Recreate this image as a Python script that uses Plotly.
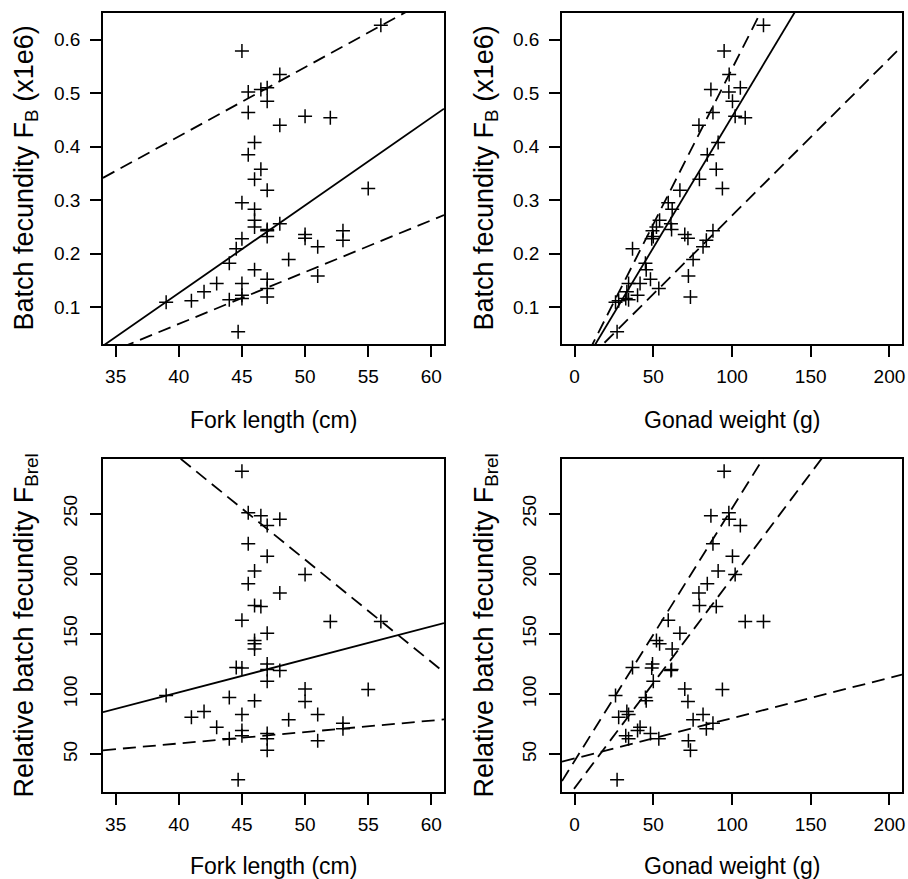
import plotly.graph_objects as go

# ---- data: one row per fish ----
fork_length = [39.0, 41.0, 42.0, 43.0, 44.0, 44.0, 44.55, 45.0, 45.0, 45.0, 45.0, 45.0, 45.0, 44.7,
               45.5, 45.5, 45.5, 46.0, 46.0, 46.0, 46.0, 46.0, 46.0, 46.5, 46.5,
               47.0, 47.0, 47.0, 47.0, 47.0, 47.0, 47.0, 47.0, 47.0,
               48.0, 48.0, 48.0, 48.7, 50.0, 50.0, 50.0, 51.0, 51.0, 52.0, 53.0, 53.0, 55.0, 56.0]
gonad_weight = [26.0, 28.0, 33.2, 41.6, 45.0, 34.3, 36.8, 49.0, 95.0, 59.5, 34.3, 40.0, 32.5, 27.0,
                98.0, 87.9, 84.3, 91.2, 79.3, 62.0, 54.0, 52.0, 45.5, 86.6, 90.0,
                105.3, 100.3, 66.9, 49.5, 50.0, 61.6, 48.2, 53.5, 73.6,
                98.2, 79.0, 61.2, 75.3, 102.0, 70.0, 72.0, 81.6, 72.3, 108.4, 87.9, 83.7, 93.9, 120.0]
batch_fec = [0.109, 0.112, 0.129, 0.144, 0.182, 0.114, 0.209, 0.228, 0.579, 0.295, 0.144, 0.122, 0.116, 0.054,
             0.502, 0.464, 0.385, 0.408, 0.339, 0.283, 0.2625, 0.250, 0.170, 0.507, 0.358,
             0.510, 0.485, 0.3185, 0.243, 0.232, 0.245, 0.152, 0.135, 0.119,
             0.535, 0.440, 0.256, 0.189, 0.457, 0.236, 0.229, 0.213, 0.158, 0.454, 0.243, 0.225, 0.322, 0.627]
rel_batch_fec = [98.8, 80.8, 85.5, 72.5, 97.2, 63.0, 122.2, 121.8, 285.2, 161.5, 83.0, 69.7, 65.5, 28.9,
                 250.8, 225.0, 191.7, 202.3, 173.7, 137.6, 141.8, 144.5, 94.6, 248.3, 172.8,
                 240.2, 214.6, 150.7, 125.1, 110.8, 120.4, 67.3, 63.0, 53.3,
                 245.4, 184.0, 119.6, 78.7, 199.5, 104.3, 93.8, 83.0, 61.3, 160.4, 75.8, 71.2, 103.8, 160.4]

# fitted lines: (intercept, slope, style)
lines_fl_fb = [(-0.5306, 0.01642, "solid"), (-0.098, 0.01293, "dash"), (-0.319, 0.00969, "dash")]
lines_gw_fb = [(-0.034, 0.0049, "solid"), (-0.0355, 0.00581, "dash"), (-0.0223, 0.002934, "dash")]
lines_fl_rel = [(-8.3, 2.743, "solid"), (637.3, -8.51, "dash"), (21.0, 0.95, "dash")]
lines_gw_rel = [(44.5, 2.098, "dash"), (21.9, 1.745, "dash"), (46.5, 0.3354, "dash")]

fl_ticks = [35, 40, 45, 50, 55, 60]
gw_ticks = [0, 50, 100, 150, 200]
fb_ticks = [0.1, 0.2, 0.3, 0.4, 0.5, 0.6]
rel_ticks = [50, 100, 150, 200, 250]

fl_lim = [35, 60]
gw_lim = [0, 200]

W, H = 908, 879
FONT = "Liberation Sans, Arial, sans-serif"


def ext(lo, hi):
    d = (hi - lo) * 0.04
    return [lo - d, hi + d]


fig = go.Figure()

panels = [
    (fork_length, batch_fec, lines_fl_fb, "x", "y", fl_lim),
    (gonad_weight, batch_fec, lines_gw_fb, "x2", "y2", gw_lim),
    (fork_length, rel_batch_fec, lines_fl_rel, "x3", "y3", fl_lim),
    (gonad_weight, rel_batch_fec, lines_gw_rel, "x4", "y4", gw_lim),
]

for xd, yd, lns, xa, ya, xl in panels:
    xr = ext(*xl)
    fig.add_trace(go.Scatter(x=xd, y=yd, mode="markers", xaxis=xa, yaxis=ya,
                             marker=dict(symbol="cross-thin", size=10,
                                         line=dict(color="black", width=1.5)),
                             showlegend=False, hoverinfo="skip"))
    for a, b, style in lns:
        fig.add_trace(go.Scatter(x=[xr[0], xr[1]], y=[a + b * xr[0], a + b * xr[1]],
                                 mode="lines", xaxis=xa, yaxis=ya,
                                 line=dict(color="black", width=1.8,
                                           dash="solid" if style == "solid" else "13px,7px"),
                                 showlegend=False, hoverinfo="skip"))

left_dom = [103 / W, 444 / W]
right_dom = [562 / W, 902 / W]
top_dom = [1 - 344 / H, 1 - 13 / H]
bot_dom = [1 - 792 / H, 1 - 459 / H]

axis_common = dict(showline=True, mirror=True, linecolor="black", linewidth=1.5,
                   ticks="outside", ticklen=11, tickwidth=1.5, tickcolor="black",
                   showgrid=False, zeroline=False, automargin=False,
                   tickfont=dict(family=FONT, size=19, color="black"))

fb_range = ext(min(batch_fec), max(batch_fec))
rel_range = ext(min(rel_batch_fec), max(rel_batch_fec))

fig.update_layout(
    width=W, height=H, margin=dict(l=0, r=0, t=0, b=0),
    paper_bgcolor="white", plot_bgcolor="white",
    xaxis=dict(domain=left_dom, anchor="y", range=ext(*fl_lim), tickvals=fl_ticks,
               ticklabelstandoff=3, **axis_common),
    yaxis=dict(domain=top_dom, anchor="x", range=fb_range, tickvals=fb_ticks,
               ticktext=[f"{v:.1f}" for v in fb_ticks], ticklabelstandoff=6, **axis_common),
    xaxis2=dict(domain=right_dom, anchor="y2", range=ext(*gw_lim), tickvals=gw_ticks,
                ticklabelstandoff=3, **axis_common),
    yaxis2=dict(domain=top_dom, anchor="x2", range=fb_range, tickvals=fb_ticks,
                ticktext=[f"{v:.1f}" for v in fb_ticks], ticklabelstandoff=6, **axis_common),
    xaxis3=dict(domain=left_dom, anchor="y3", range=ext(*fl_lim), tickvals=fl_ticks,
                ticklabelstandoff=3, **axis_common),
    yaxis3=dict(domain=bot_dom, anchor="x3", range=rel_range, tickvals=rel_ticks,
                tickangle=-90, ticklabelstandoff=6, **axis_common),
    xaxis4=dict(domain=right_dom, anchor="y4", range=ext(*gw_lim), tickvals=gw_ticks,
                ticklabelstandoff=3, **axis_common),
    yaxis4=dict(domain=bot_dom, anchor="x4", range=rel_range, tickvals=rel_ticks,
                tickangle=-90, ticklabelstandoff=6, **axis_common),
)

xtitle_font = dict(family=FONT, size=23, color="black")
ytitle_font = dict(family=FONT, size=27, color="black")


def add_title(text, xpx, ypx, angle, font):
    fig.add_annotation(text=text, x=xpx / W, y=1 - ypx / H, xref="paper", yref="paper",
                       showarrow=False, textangle=angle, xanchor="center", yanchor="middle",
                       font=font)


add_title("Fork length (cm)", 273.5, 420, 0, xtitle_font)
add_title("Gonad weight (g)", 732, 420, 0, xtitle_font)
add_title("Fork length (cm)", 273.5, 866, 0, xtitle_font)
add_title("Gonad weight (g)", 732, 866, 0, xtitle_font)
add_title("Batch fecundity F<sub>B</sub> (x1e6)", 25, 178.5, -90, ytitle_font)
add_title("Batch fecundity F<sub>B</sub> (x1e6)", 485, 178.5, -90, ytitle_font)
add_title("Relative batch fecundity F<sub>Brel</sub>", 25, 625.5, -90, ytitle_font)
add_title("Relative batch fecundity F<sub>Brel</sub>", 485, 625.5, -90, ytitle_font)

fig.write_html("out.html", config={"displayModeBar": False},
               post_script="document.body.style.margin='0';document.body.style.padding='0';"
                           "document.body.style.overflow='hidden';")
